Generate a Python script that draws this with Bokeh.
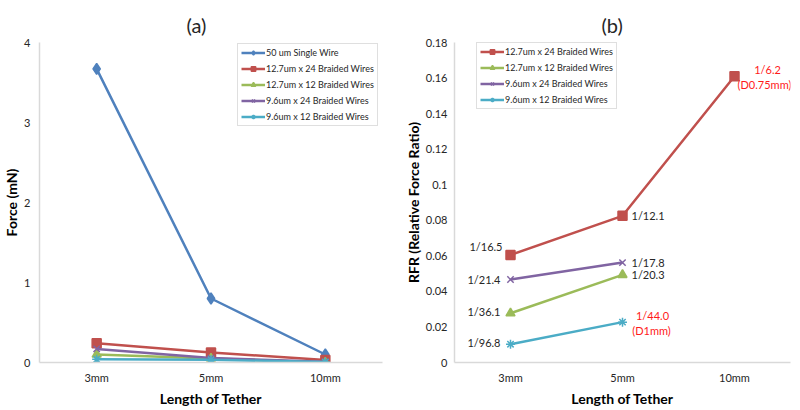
from bokeh.plotting import figure
from bokeh.models import (Legend, LegendItem, Label, FactorRange, Range1d,
                          FixedTicker, NumeralTickFormatter)
from bokeh.layouts import row
from bokeh.embed import file_html
from bokeh.resources import INLINE

# ---------------- data ----------------
categories = ["3mm", "5mm", "10mm"]

force_names = ["50 um Single Wire", "12.7um x 24 Braided Wires",
               "12.7um x 12 Braided Wires", "9.6um x 24 Braided Wires",
               "9.6um x 12 Braided Wires"]
force_single = [3.67, 0.80, 0.10]
force_127x24 = [0.24, 0.125, 0.03]
force_127x12 = [0.10, 0.05, 0.0]
force_96x24 = [0.17, 0.055, 0.01]
force_96x12 = [0.04, 0.035, 0.005]

rfr_names = ["12.7um x 24 Braided Wires", "12.7um x 12 Braided Wires",
             "9.6um x 24 Braided Wires", "9.6um x 12 Braided Wires"]
rfr_127x24 = [0.0605, 0.0825, 0.161]
rfr_127x12 = [0.0277, 0.0493]
rfr_96x24 = [0.0467, 0.0562]
rfr_96x12 = [0.0103, 0.0227]

rfr_text_127x24 = ["1/16.5", "1/12.1", "1/6.2"]
rfr_text_127x12 = ["1/36.1", "1/20.3"]
rfr_text_96x24 = ["1/21.4", "1/17.8"]
rfr_text_96x12 = ["1/96.8", "1/44.0"]
note_127x24 = "(D0.75mm)"
note_96x12 = "(D1mm)"

force_ticks = [0, 1, 2, 3, 4]
rfr_ticks = [0, 0.02, 0.04, 0.06, 0.08, 0.1, 0.12, 0.14, 0.16, 0.18]

# ---------------- styles ----------------
FONT = "Lato"
COLORS = ["#4F81BD", "#C0504D", "#9BBB59", "#8064A2", "#4BACC6"]
MARKERS = ["diamond", "square", "triangle", "x", "asterisk"]
MSIZES = [11, 9, 9, 9, 9]
AXIS_COLOR = "#d9d9d9"
TEXT_COLOR = "#262626"
RED_TEXT = "#ff1a1a"
FRAME_H = 320


def factor_x(i):
    # synthetic coordinate of the i-th factor on a FactorRange
    return i + 0.5


def base_figure(title, ymax, ticks, fw, left, right):
    p = figure(x_range=FactorRange(*categories), y_range=Range1d(0, ymax),
               frame_width=fw, frame_height=FRAME_H, output_backend="svg",
               toolbar_location=None, min_border_left=left,
               min_border_right=right, min_border_top=42,
               min_border_bottom=36)
    p.title.text = title
    p.title.align = "left"
    p.title.offset = 147
    p.title.text_font = FONT
    p.title.text_font_size = "20px"
    p.title.text_font_style = "normal"
    p.title.text_color = TEXT_COLOR
    p.title.standoff = 12
    p.xgrid.visible = False
    p.ygrid.visible = False
    p.outline_line_color = None
    p.background_fill_color = "white"
    p.border_fill_color = "white"
    for ax in (p.xaxis[0], p.yaxis[0]):
        ax.axis_line_color = AXIS_COLOR
        ax.axis_line_width = 1.5
        ax.major_tick_line_color = None
        ax.minor_tick_line_color = None
        ax.major_tick_out = 0
        ax.major_tick_in = 0
        ax.minor_tick_out = 0
        ax.minor_tick_in = 0
        ax.major_label_text_font = FONT
        ax.major_label_text_font_size = "11px"
        ax.major_label_text_color = TEXT_COLOR
        ax.axis_label_text_font = FONT
        ax.axis_label_text_font_style = "bold"
        ax.axis_label_text_font_size = "14px"
        ax.axis_label_text_color = "black"
    p.yaxis.ticker = FixedTicker(ticks=ticks)
    p.xaxis.major_label_standoff = 8
    p.xaxis.axis_label_standoff = 3
    p.xaxis.axis_label = "Length of Tether"
    return p


def add_series(p, xs, ys, idx):
    line = p.line(xs, ys, line_color=COLORS[idx], line_width=2.5)
    pts = p.scatter(xs, ys, marker=MARKERS[idx], size=MSIZES[idx],
                    fill_color=COLORS[idx], line_color=COLORS[idx],
                    line_width=1.5)
    return [line, pts]


def style_legend(leg):
    leg.label_text_font = FONT
    leg.label_text_font_size = "9px"
    leg.label_text_color = TEXT_COLOR
    leg.label_height = 11
    leg.glyph_height = 11
    leg.glyph_width = 24
    leg.spacing = 5
    leg.padding = 3
    leg.margin = 0
    leg.label_standoff = 1
    leg.border_line_color = "#bfbfbf"
    leg.border_line_width = 1
    leg.background_fill_color = "white"
    leg.background_fill_alpha = 1


# ---------------- (a) ----------------
pa = base_figure("(a)", 4, force_ticks, 343, 30, 19)
pa.yaxis.axis_label = "Force (mN)"
pa.yaxis.major_label_standoff = 9
pa.yaxis.axis_label_standoff = 1
force_series = [force_single, force_127x24, force_127x12, force_96x24, force_96x12]
items_a = []
for i, ys in enumerate(force_series):
    rs = add_series(pa, categories[:len(ys)], ys, i)
    items_a.append(LegendItem(label=force_names[i], renderers=rs))
leg_a = Legend(items=items_a, location=(198, 236))
style_legend(leg_a)
pa.add_layout(leg_a)

# ---------------- (b) ----------------
pb = base_figure("(b)", 0.18, rfr_ticks, 336, 53, 8)
pb.yaxis.axis_label = "RFR (Relative Force Ratio)"
pb.yaxis.major_label_standoff = 7
pb.yaxis.axis_label_standoff = 1
pb.yaxis.formatter = NumeralTickFormatter(format="0.[00]")
rfr_series = [rfr_127x24, rfr_127x12, rfr_96x24, rfr_96x12]
rfr_texts = [rfr_text_127x24, rfr_text_127x12, rfr_text_96x24, rfr_text_96x12]
items_b = []
for i, ys in enumerate(rfr_series):
    rs = add_series(pb, categories[:len(ys)], ys, i + 1)
    items_b.append(LegendItem(label=rfr_names[i], renderers=rs))
leg_b = Legend(items=items_b, location=(22, 253))
style_legend(leg_b)
pb.add_layout(leg_b)

# point annotations: (series index, point index) -> offsets / alignment
label_style = {
    (0, 0): (-8, 8, "right"), (0, 1): (9, 0, "left"),
    (1, 0): (-10, 2, "right"), (1, 1): (9, 0, "left"),
    (2, 0): (-10, 0, "right"), (2, 1): (9, 0, "left"),
    (3, 0): (-10, 2, "right"),
}
for si, (ys, texts) in enumerate(zip(rfr_series, rfr_texts)):
    for pi, (y, t) in enumerate(zip(ys, texts)):
        if (si, pi) in label_style:
            dx, dy, align = label_style[(si, pi)]
            pb.add_layout(Label(x=factor_x(pi), y=y, text=t, x_offset=dx,
                                y_offset=dy, text_align=align,
                                text_baseline="middle", text_font=FONT,
                                text_font_size="11px", text_color=TEXT_COLOR))

# red notes
for ys, texts, note, (dx1, dy1, dx2, dy2) in [
        (rfr_127x24, rfr_text_127x24, note_127x24, (33, 7, 30, -8)),
        (rfr_96x12, rfr_text_96x12, note_96x12, (30, 7, 29, -8))]:
    pi = len(ys) - 1
    pb.add_layout(Label(x=factor_x(pi), y=ys[pi], text=texts[pi],
                        x_offset=dx1, y_offset=dy1, text_align="center",
                        text_baseline="middle", text_font=FONT,
                        text_font_size="11px", text_color=RED_TEXT))
    pb.add_layout(Label(x=factor_x(pi), y=ys[pi], text=note,
                        x_offset=dx2, y_offset=dy2, text_align="center",
                        text_baseline="middle", text_font=FONT,
                        text_font_size="11px", text_color=RED_TEXT))

layout = row(pa, pb)
open("out.html", "w").write(file_html(layout, INLINE))
